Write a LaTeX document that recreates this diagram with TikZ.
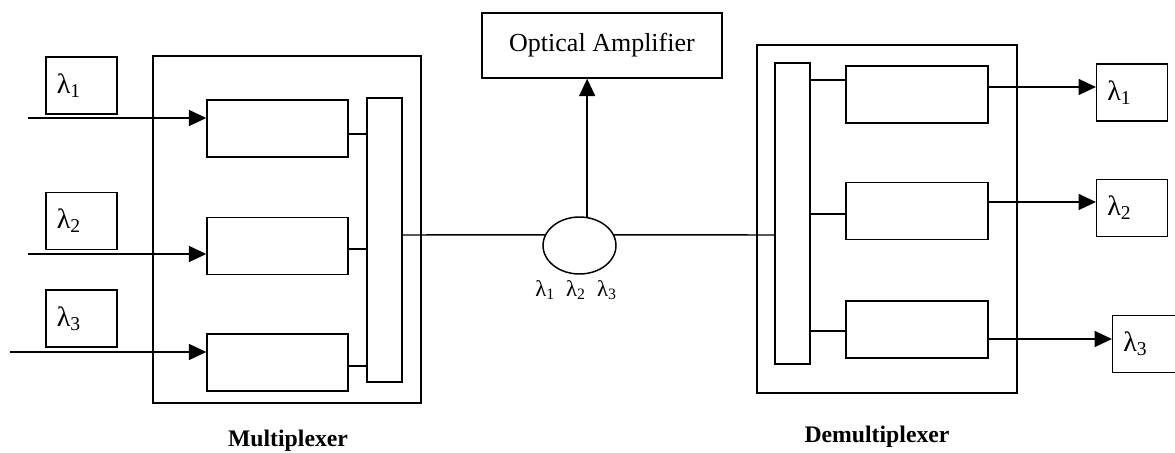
\documentclass[tikz,border=0pt]{standalone}
\usepackage{fontspec}
\setmainfont{Liberation Serif}
\usetikzlibrary{arrows.meta, positioning, shapes.geometric}

\begin{document}
\begin{tikzpicture}[
    x=0.75pt, y=-0.75pt,
    line width=1.1pt,
    group/.style={draw, inner sep=0pt},
    filter/.style={draw, inner sep=0pt, minimum width=105.75pt, minimum height=42.75pt},
    bar/.style={draw, inner sep=0pt, minimum width=26.25pt},
    lambox/.style={draw, inner xsep=8pt, inner ysep=0pt, text width=37pt, minimum height=42.75pt, align=left, font=\fontsize{21}{24}\selectfont},
    caption/.style={font=\fontsize{17.8}{20}\selectfont\bfseries},
    arrow/.style={-{Triangle[length=13pt, width=12pt]}}
]
\useasboundingbox (0,0) rectangle (1175,453);

% multiplexer
\node[group, minimum width=201pt, minimum height=260.25pt] (mux) at (287,229.5) {};
\node[filter] (mf1) at (277.5,128.5) {};
\node[filter] (mf2) at (277.5,246) {};
\node[filter] (mf3) at (277.5,362.5) {};
\node[bar, minimum height=213pt] (mbar) at (384.5,240) {};

\node[lambox] (lin1) at (81.5,85.5) {λ\textsubscript{1}};
\node[lambox] (lin2) at (81.5,221) {λ\textsubscript{2}};
\node[lambox] (lin3) at (81.5,318.5) {λ\textsubscript{3}};

\coordinate (in1) at (28,118);
\coordinate (in2) at (28,254);
\coordinate (in3) at (10,352);

% fibre and amplifier
\node[draw, ellipse, inner sep=0pt, minimum width=54.75pt, minimum height=42.75pt] (coupler) at (579.5,245.5) {};
\node[draw, minimum width=180pt, minimum height=48.75pt, font=\fontsize{19.5}{22}\selectfont] (amp) at (602,45.5) {Optical Amplifier};
\node[font=\fontsize{17}{20}\selectfont] (lamall) at (576,290) {λ\textsubscript{1}\ \ λ\textsubscript{2}\ \ λ\textsubscript{3}};

% demultiplexer
\node[group, minimum width=195pt, minimum height=261pt] (demux) at (887,219) {};
\node[bar, minimum height=225.75pt] (dbar) at (792.5,213.5) {};
\node[filter, minimum width=106.5pt] (df1) at (917,94.5) {};
\node[filter, minimum width=106.5pt] (df2) at (917,211) {};
\node[filter, minimum width=106.5pt] (df3) at (917,329.5) {};

\node[lambox] (lout1) at (1132,92.5) {λ\textsubscript{1}};
\node[lambox] (lout2) at (1132,208) {λ\textsubscript{2}};
\node[lambox] (lout3) at (1148,344) {λ\textsubscript{3}};

\node[caption] (muxlabel) at (288,441) {Multiplexer};
\node[caption] (demuxlabel) at (877,437) {Demultiplexer};

\draw[arrow] (in1) -- (in1 -| mf1.west);
\draw[arrow] (in2) -- (in2 -| mf2.west);
\draw[arrow] (in3) -- (in3 -| mf3.west);

\draw (mf1.east |- 0,134) -- (mbar.west |- 0,134);
\draw (mf2.east |- 0,249) -- (mbar.west |- 0,249);
\draw (mf3.east |- 0,366) -- (mbar.west |- 0,366);

\draw (mbar.east |- 0,235) -- (coupler.163);
\draw (coupler.17) -- (dbar.west |- 0,235);
\draw[arrow] (coupler.75) -- (coupler.75 |- amp.south);

\draw (dbar.east |- 0,80) -- (df1.west |- 0,80);
\draw (dbar.east |- 0,214) -- (df2.west |- 0,214);
\draw (dbar.east |- 0,331) -- (df3.west |- 0,331);

\draw[arrow] (df1.east |- 0,87) -- (lout1.west |- 0,87);
\draw[arrow] (df2.east |- 0,202) -- (lout2.west |- 0,202);
\draw[arrow] (df3.east |- 0,339) -- (lout3.west |- 0,339);

\end{tikzpicture}
\end{document}
